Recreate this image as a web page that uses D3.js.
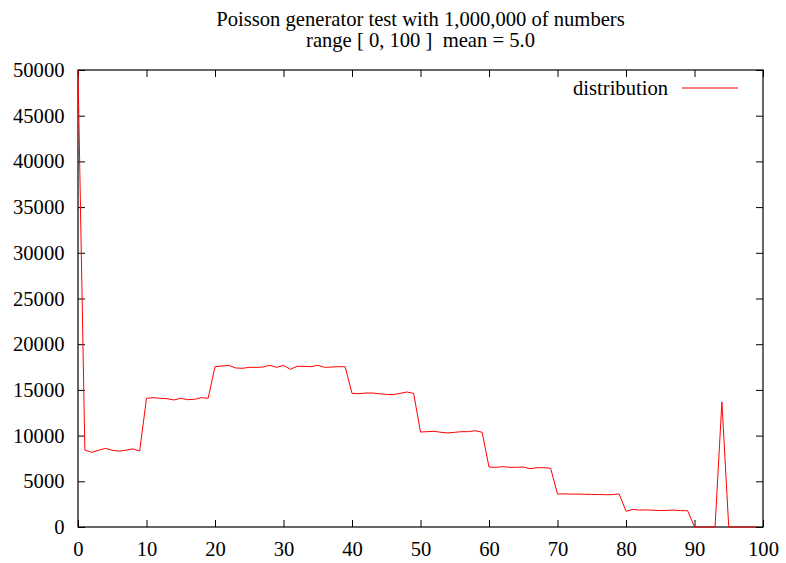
<!DOCTYPE html>
<html>
<head>
<meta charset="utf-8">
<script src="https://cdnjs.cloudflare.com/ajax/libs/d3/7.8.5/d3.min.js"></script>
<style>
  html, body { margin: 0; padding: 0; background: #fff; }
  svg { display: block; }
  svg text { font-family: "Liberation Serif", "Times New Roman", Times, "DejaVu Serif", serif; fill: #000; white-space: pre; }
</style>
</head>
<body>
<svg id="chart" width="786" height="563"></svg>
<script>
// Histogram counts of generated numbers, one value per integer bin 0..99
const bins = d3.range(0, 100);
const counts = [
  50000, 8420, 8170, 8400, 8600, 8400, 8300, 8400, 8550, 8300,
  14080, 14150, 14080, 14040, 13900, 14080, 13930, 13970, 14150, 14080,
  17540, 17610, 17690, 17400, 17360, 17470, 17470, 17500, 17690, 17470,
  17690, 17250, 17580, 17580, 17540, 17690, 17470, 17500, 17540, 17540,
  14620, 14580, 14660, 14660, 14580, 14510, 14480, 14620, 14770, 14620,
  10390, 10430, 10470, 10360, 10290, 10360, 10430, 10430, 10540, 10360,
  6560, 6530, 6600, 6530, 6530, 6560, 6380, 6490, 6490, 6420,
  3610, 3620, 3600, 3600, 3580, 3560, 3560, 3530, 3540, 3620,
  1720, 1930, 1850, 1870, 1830, 1800, 1820, 1850, 1790, 1780,
  0, 0, 0, 0, 13680, 0, 0, 0, 0, 0
];
const xTicks = d3.range(0, 101, 10);
const yTicks = d3.range(0, 50001, 5000);
const titleLines = [
  "Poisson generator test with 1,000,000 of numbers",
  "range [ 0, 100 ]  mean = 5.0"
];
const seriesName = "distribution";

const serif = '"Liberation Serif", "Times New Roman", Times, "DejaVu Serif", serif';
const svg = d3.select("#chart");
const plotLeft = 78, plotRight = 763, plotTop = 70, plotBottom = 527;
const fontSize = 20.6;
const tick = 7;

const x = d3.scaleLinear().domain([0, 100]).range([plotLeft, plotRight]);
const y = d3.scaleLinear().domain([0, 50000]).range([plotBottom, plotTop]);

// Title
svg.append("g").selectAll("text")
  .data(titleLines)
  .join("text")
  .attr("x", (plotLeft + plotRight) / 2)
  .attr("y", (d, i) => 26 + i * 20.5)
  .attr("text-anchor", "middle")
  .attr("font-family", serif)
  .attr("font-size", fontSize)
  .attr("xml:space", "preserve")
  .text(d => d);

// Axes with inward ticks, mirrored on the opposite sides
function styleAxis(g) {
  g.attr("font-family", serif).attr("font-size", fontSize);
  g.select(".domain").remove();
  g.selectAll("line").attr("stroke", "#000").attr("stroke-width", 1);
  g.selectAll("text").attr("fill", "#000");
}

svg.append("g")
  .attr("transform", `translate(0,${plotBottom})`)
  .call(d3.axisBottom(x).tickValues(xTicks).tickSizeInner(-tick).tickSizeOuter(0).tickPadding(14))
  .call(styleAxis);

svg.append("g")
  .attr("transform", `translate(0,${plotTop})`)
  .call(d3.axisTop(x).tickValues(xTicks).tickSizeInner(-tick).tickSizeOuter(0).tickFormat(""))
  .call(styleAxis);

svg.append("g")
  .attr("transform", `translate(${plotLeft},0)`)
  .call(d3.axisLeft(y).tickValues(yTicks).tickSizeInner(-tick).tickSizeOuter(0).tickPadding(13.5).tickFormat(d3.format("d")))
  .call(styleAxis);

svg.append("g")
  .attr("transform", `translate(${plotRight},0)`)
  .call(d3.axisRight(y).tickValues(yTicks).tickSizeInner(-tick).tickSizeOuter(0).tickFormat(""))
  .call(styleAxis);

// Plot border
svg.append("rect")
  .attr("x", plotLeft).attr("y", plotTop)
  .attr("width", plotRight - plotLeft).attr("height", plotBottom - plotTop)
  .attr("fill", "none").attr("stroke", "#000").attr("stroke-width", 1.2);

// Distribution line
const line = d3.line()
  .x((d, i) => x(bins[i]))
  .y(d => y(d));

svg.append("path")
  .datum(counts)
  .attr("fill", "none")
  .attr("stroke", "#ff0000")
  .attr("stroke-width", 1)
  .attr("d", line);

// Legend
const legend = svg.append("g");
legend.append("text")
  .attr("x", 668).attr("y", 95)
  .attr("text-anchor", "end")
  .attr("font-family", serif)
  .attr("font-size", fontSize)
  .text(seriesName);
legend.append("line")
  .attr("x1", 682).attr("x2", 738)
  .attr("y1", 88).attr("y2", 88)
  .attr("stroke", "#ff0000").attr("stroke-width", 1);
</script>
</body>
</html>
